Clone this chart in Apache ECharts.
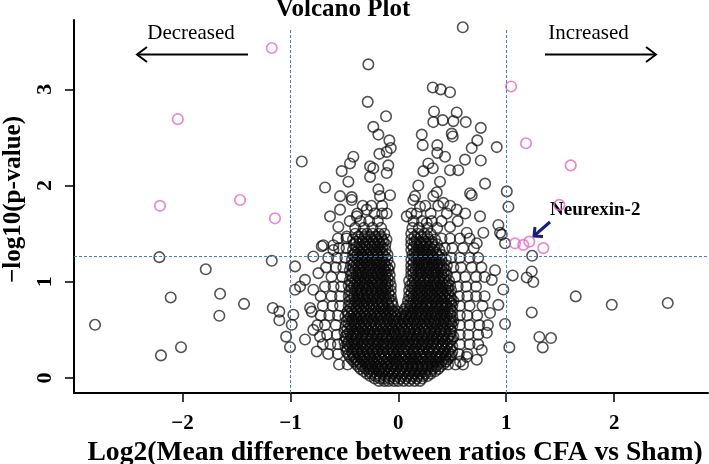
<!DOCTYPE html>
<html><head><meta charset="utf-8">
<script src="https://cdn.jsdelivr.net/npm/echarts@6/dist/echarts.min.js"></script>
<style>html,body{margin:0;padding:0;background:#fff}#c{width:709px;height:464px}</style>
</head><body><div id="c"></div>
<script>
const xTicks = [-2, -1, 0, 1, 2];
const yTicks = [0, 1, 2, 3];
const pThreshold = 1.27;
const foldLines = [-1, 1];

// significant (pink) proteins
const sigDown = [[-1.173,3.43],[-2.044,2.69],[-2.209,1.79],[-1.467,1.85],[-1.143,1.66]];
const sigUp = [[1.045,3.03],[1.183,2.44],[1.598,2.21],[1.492,1.80],[1.081,1.40],[1.158,1.384],[1.214,1.418],[1.344,1.35]];

// sparse upper points
const upperLeft = [[-0.278,3.26],[-0.284,2.87],[-0.114,2.72],[-0.232,2.61],[-0.185,2.53],[-0.083,2.47],[-0.07,2.39],[-0.176,2.33],[-0.108,2.35],[-0.895,2.25],[-0.417,2.30],[-0.448,2.23],[-0.525,2.15],[-0.262,2.20],[-0.232,2.18],[-0.093,2.21],[-0.108,2.13],[-0.463,2.04],[-0.679,1.98],[-0.262,2.09],[-0.185,1.96],[-0.54,1.89],[-0.432,1.88],[-0.077,1.90],[-0.432,1.85],[-0.633,1.68],[-0.54,1.75],[-0.556,1.57],[-0.386,1.68],[-0.293,1.75],[-0.108,1.71],[-0.17,1.89],[-0.695,1.38],[-0.602,1.33],[-0.478,1.47]];
const upperRight = [[0.597,3.645],[0.319,3.02],[0.393,3.00],[0.479,2.97],[0.331,2.77],[0.324,2.66],[0.411,2.68],[0.541,2.76],[0.510,2.67],[0.625,2.66],[0.764,2.60],[0.217,2.53],[0.226,2.42],[0.495,2.54],[0.504,2.51],[0.361,2.42],[0.732,2.47],[0.680,2.39],[0.912,2.40],[0.361,2.34],[0.433,2.30],[0.618,2.27],[0.764,2.26],[0.278,2.23],[0.232,2.15],[0.319,2.18],[0.479,2.16],[0.556,2.16],[0.386,2.04],[0.185,2.00],[0.804,2.02],[0.356,1.93],[0.665,1.92],[1.005,1.94],[0.155,1.89],[0.139,1.85],[0.201,1.78],[0.324,1.89],[0.417,1.82],[0.541,1.75],[0.680,1.90],[0.757,1.68],[0.078,1.68],[0.263,1.61],[0.479,1.57],[0.634,1.51],[0.788,1.51],[0.727,1.40],[1.02,1.78],[0.927,1.59],[0.943,1.51],[0.989,1.40]];
const outliers = [[-2.215,1.256],[-1.173,1.218],[-1.785,1.13],[-2.11,0.837],[-1.652,0.875],[-1.43,0.77],[-1.659,0.647],[-2.811,0.553],[-2.014,0.32],[-2.2,0.235],[-1.164,0.727],[-1.103,0.69],[-1.103,0.60],[-0.973,0.657],[-0.988,0.553],[-1.04,0.43],[-1.004,0.32],[-0.957,1.16],[-0.957,0.917],[-0.911,0.95],[-0.865,1.02],[-0.788,1.263],[-0.71,1.37],[-0.602,1.38],[-0.818,0.727],[-0.803,0.69],[-0.865,0.40],[-0.788,0.50],[-0.756,0.276],[-0.726,0.43],[-0.788,0.917],[-0.741,1.09],
[1.24,1.27],[1.06,1.066],[1.19,1.045],[1.236,1.107],[1.251,0.997],[1.644,0.848],[1.978,0.761],[2.497,0.779],[1.236,0.681],[0.989,0.561],[1.307,0.426],[1.415,0.415],[1.338,0.318],[1.029,0.318],
[0.896,1.12],[0.866,1.02],[0.973,0.92],[0.927,0.76],[0.85,0.675],[0.82,0.47],[0.773,0.29],[0.727,0.19],[0.634,0.22],[0.572,0.17],[0.958,1.49]];

// dense core, rows of [y, x values]
const coreRows = [
[-0.03,[-0.18,-0.13,-0.09,-0.04,0.00,0.05,0.10,0.15,0.20]],
[0.02,[-0.26,-0.21,-0.17,-0.12,-0.07,-0.02,0.03,0.08,0.13,0.18,0.23,0.27]],
[0.07,[-0.32,-0.27,-0.23,-0.18,-0.14,-0.09,-0.04,0.01,0.06,0.11,0.15,0.20,0.25,0.30,0.34]],
[0.12,[-0.37,-0.33,-0.28,-0.24,-0.19,-0.15,-0.10,-0.05,-0.01,0.04,0.09,0.13,0.18,0.22,0.27,0.31,0.35,0.39]],
[0.17,[-0.41,-0.37,-0.32,-0.27,-0.23,-0.18,-0.13,-0.08,-0.03,0.01,0.06,0.11,0.15,0.20,0.25,0.30,0.35,0.40,0.44]],
[0.22,[-0.45,-0.41,-0.36,-0.31,-0.26,-0.22,-0.17,-0.12,-0.07,-0.03,0.02,0.07,0.12,0.16,0.21,0.26,0.30,0.35,0.39,0.44,0.48]],
[0.27,[-0.48,-0.43,-0.38,-0.34,-0.29,-0.24,-0.20,-0.15,-0.10,-0.05,-0.01,0.04,0.09,0.14,0.18,0.23,0.28,0.32,0.37,0.42,0.46,0.50]],
[0.33,[-0.49,-0.45,-0.40,-0.35,-0.31,-0.26,-0.21,-0.16,-0.12,-0.07,-0.02,0.02,0.07,0.11,0.16,0.21,0.25,0.30,0.35,0.40,0.45,0.50]],
[0.38,[-0.50,-0.46,-0.41,-0.37,-0.32,-0.27,-0.22,-0.18,-0.13,-0.08,-0.03,0.01,0.05,0.10,0.15,0.19,0.24,0.29,0.33,0.38,0.43,0.48]],
[0.43,[-0.49,-0.44,-0.39,-0.34,-0.30,-0.25,-0.20,-0.15,-0.11,-0.06,-0.02,0.03,0.08,0.12,0.17,0.22,0.27,0.31,0.36,0.41,0.46,0.51]],
[0.48,[-0.50,-0.45,-0.40,-0.36,-0.31,-0.26,-0.22,-0.17,-0.12,-0.07,-0.03,0.02,0.06,0.11,0.16,0.20,0.25,0.30,0.34,0.39,0.44,0.49]],
[0.54,[-0.49,-0.44,-0.40,-0.35,-0.30,-0.25,-0.21,-0.16,-0.11,-0.06,-0.02,0.03,0.08,0.13,0.17,0.22,0.27,0.32,0.36,0.41,0.46,0.50]],
[0.59,[-0.48,-0.43,-0.39,-0.34,-0.29,-0.24,-0.19,-0.15,-0.10,-0.05,-0.01,0.04,0.09,0.14,0.18,0.23,0.28,0.33,0.37,0.42,0.47,0.51]],
[0.64,[-0.49,-0.44,-0.39,-0.35,-0.30,-0.25,-0.20,-0.16,-0.11,-0.06,-0.02,0.03,0.07,0.12,0.17,0.22,0.26,0.31,0.36,0.40,0.45,0.50]],
[0.69,[-0.47,-0.43,-0.38,-0.33,-0.28,-0.24,-0.19,-0.14,-0.09,-0.05,-0.01,0.05,0.09,0.13,0.18,0.22,0.27,0.32,0.36,0.41,0.46,0.50]],
[0.75,[-0.46,-0.41,-0.37,-0.32,-0.27,-0.23,-0.18,-0.14,-0.09,-0.05,0.08,0.12,0.17,0.22,0.26,0.31,0.36,0.40,0.45,0.50]],
[0.80,[-0.45,-0.40,-0.36,-0.31,-0.26,-0.21,-0.16,-0.11,-0.06,0.09,0.14,0.19,0.23,0.28,0.33,0.37,0.42,0.47,0.51]],
[0.85,[-0.46,-0.41,-0.36,-0.32,-0.27,-0.22,-0.17,-0.12,-0.07,0.10,0.14,0.19,0.24,0.29,0.33,0.38,0.43,0.48]],
[0.91,[-0.45,-0.40,-0.35,-0.30,-0.25,-0.21,-0.16,-0.12,-0.07,0.10,0.15,0.20,0.25,0.29,0.34,0.39,0.44,0.49]],
[0.96,[-0.46,-0.41,-0.36,-0.31,-0.27,-0.22,-0.17,-0.12,-0.07,0.11,0.15,0.20,0.25,0.30,0.34,0.39,0.44,0.48]],
[1.01,[-0.45,-0.40,-0.35,-0.31,-0.26,-0.21,-0.16,-0.12,-0.08,0.10,0.15,0.20,0.24,0.29,0.34,0.38,0.43,0.47]],
[1.07,[-0.44,-0.39,-0.35,-0.30,-0.25,-0.20,-0.16,-0.12,-0.08,0.12,0.17,0.21,0.26,0.31,0.35,0.40,0.45]],
[1.12,[-0.45,-0.40,-0.35,-0.30,-0.26,-0.21,-0.17,-0.13,-0.09,0.12,0.16,0.21,0.26,0.30,0.35,0.40,0.44]],
[1.17,[-0.44,-0.39,-0.34,-0.29,-0.25,-0.20,-0.16,-0.12,-0.08,0.12,0.17,0.22,0.26,0.31,0.36,0.40,0.45]],
[1.23,[-0.43,-0.38,-0.34,-0.29,-0.24,-0.20,-0.15,-0.10,0.12,0.17,0.21,0.26,0.31,0.35,0.40,0.44]],
[1.28,[-0.42,-0.38,-0.33,-0.28,-0.23,-0.19,-0.14,-0.10,0.13,0.17,0.22,0.27,0.31,0.36,0.40]],
[1.33,[-0.42,-0.37,-0.32,-0.27,-0.22,-0.17,-0.12,0.12,0.17,0.22,0.27,0.32,0.38]],
[1.39,[-0.41,-0.36,-0.31,-0.26,-0.22,-0.17,-0.12,0.12,0.17,0.21,0.26,0.31,0.36]],
[1.44,[-0.42,-0.36,-0.30,-0.25,-0.20,-0.15,-0.11,0.12,0.17,0.23,0.28,0.34]],
[1.50,[-0.40,-0.34,-0.29,-0.24,-0.18,-0.13,0.12,0.18,0.24,0.30]],
[1.56,[-0.40,-0.32,-0.24,-0.16,0.13,0.19,0.27,0.36]],
[1.63,[-0.45,-0.35,-0.27,-0.19,0.14,0.22,0.31,0.40,0.55]],
[1.71,[-0.38,-0.22,-0.15,0.12,0.17,0.30,0.45,0.62]],
[1.79,[-0.33,-0.25,-0.15,0.25,0.37,0.48]]
];
// second, interleaved set of core rows (the cloud is solid black)
const coreRowsB = [
[-0.005,[-0.22,-0.17,-0.13,-0.08,-0.03,0.02,0.07,0.12,0.17,0.22]],
[0.045,[-0.29,-0.25,-0.20,-0.15,-0.10,-0.05,0.00,0.05,0.10,0.15,0.20,0.25,0.30]],
[0.095,[-0.35,-0.30,-0.26,-0.21,-0.16,-0.12,-0.07,-0.02,0.03,0.08,0.13,0.17,0.22,0.27,0.32,0.37]],
[0.145,[-0.39,-0.35,-0.30,-0.26,-0.21,-0.16,-0.11,-0.06,-0.02,0.03,0.08,0.13,0.17,0.22,0.27,0.32,0.37,0.42]],
[0.195,[-0.43,-0.39,-0.34,-0.29,-0.25,-0.20,-0.15,-0.10,-0.05,-0.01,0.04,0.09,0.13,0.18,0.23,0.28,0.32,0.37,0.42,0.46]],
[0.245,[-0.46,-0.42,-0.37,-0.32,-0.27,-0.23,-0.18,-0.13,-0.08,-0.04,0.01,0.06,0.11,0.15,0.20,0.25,0.30,0.35,0.40,0.44,0.49]],
[0.30,[-0.47,-0.42,-0.38,-0.33,-0.28,-0.23,-0.19,-0.14,-0.09,-0.05,0.00,0.05,0.09,0.14,0.19,0.23,0.28,0.33,0.38,0.43,0.48]],
[0.355,[-0.47,-0.43,-0.38,-0.33,-0.29,-0.24,-0.19,-0.14,-0.10,-0.05,-0.01,0.04,0.09,0.13,0.18,0.22,0.27,0.32,0.36,0.41,0.46]],
[0.405,[-0.48,-0.43,-0.39,-0.34,-0.29,-0.25,-0.20,-0.15,-0.10,-0.06,-0.01,0.03,0.08,0.13,0.17,0.22,0.27,0.32,0.36,0.41,0.46,0.50]],
[0.455,[-0.47,-0.42,-0.38,-0.33,-0.28,-0.23,-0.19,-0.14,-0.09,-0.04,0.00,0.05,0.10,0.14,0.19,0.24,0.28,0.33,0.38,0.43,0.48]],
[0.51,[-0.47,-0.43,-0.38,-0.33,-0.28,-0.24,-0.19,-0.14,-0.09,-0.05,0.00,0.05,0.10,0.15,0.19,0.24,0.29,0.34,0.39,0.43,0.48]],
[0.565,[-0.46,-0.41,-0.37,-0.32,-0.27,-0.22,-0.17,-0.13,-0.08,-0.03,0.01,0.06,0.11,0.16,0.20,0.25,0.30,0.34,0.39,0.44,0.49]],
[0.615,[-0.46,-0.42,-0.37,-0.32,-0.28,-0.23,-0.18,-0.13,-0.09,-0.04,0.01,0.05,0.10,0.15,0.20,0.24,0.29,0.34,0.38,0.43,0.48]],
[0.665,[-0.46,-0.41,-0.36,-0.31,-0.26,-0.22,-0.17,-0.12,-0.07,-0.03,0.02,0.07,0.11,0.16,0.20,0.25,0.30,0.34,0.39,0.43,0.48]],
[0.72,[-0.44,-0.39,-0.35,-0.30,-0.25,-0.21,-0.16,-0.12,-0.07,0.06,0.11,0.15,0.20,0.24,0.29,0.34,0.38,0.43,0.48]],
[0.775,[-0.43,-0.38,-0.34,-0.29,-0.24,-0.19,-0.15,-0.10,-0.06,0.11,0.16,0.21,0.26,0.30,0.35,0.40,0.44,0.49]],
[0.825,[-0.43,-0.38,-0.33,-0.29,-0.24,-0.19,-0.14,-0.09,0.12,0.17,0.21,0.26,0.31,0.35,0.40,0.45,0.49]],
[0.88,[-0.43,-0.38,-0.34,-0.29,-0.24,-0.19,-0.14,-0.09,0.12,0.17,0.22,0.27,0.31,0.36,0.41,0.46]],
[0.935,[-0.43,-0.38,-0.33,-0.28,-0.24,-0.19,-0.14,-0.10,0.13,0.18,0.22,0.27,0.32,0.37,0.41,0.46]],
[0.985,[-0.43,-0.38,-0.33,-0.29,-0.24,-0.19,-0.15,-0.10,0.13,0.17,0.22,0.27,0.32,0.36,0.41,0.45]],
[1.04,[-0.42,-0.37,-0.32,-0.28,-0.23,-0.18,-0.14,-0.10,0.14,0.19,0.24,0.28,0.33,0.38,0.42]],
[1.095,[-0.42,-0.37,-0.33,-0.28,-0.23,-0.19,-0.15,-0.11,0.14,0.19,0.23,0.28,0.33,0.37,0.42]],
[1.145,[-0.42,-0.37,-0.32,-0.27,-0.23,-0.18,-0.14,-0.10,0.14,0.19,0.24,0.28,0.33,0.38,0.42]],
[1.20,[-0.41,-0.36,-0.31,-0.27,-0.22,-0.17,-0.13,0.14,0.19,0.24,0.28,0.33,0.38]],
[1.255,[-0.40,-0.35,-0.31,-0.26,-0.21,-0.16,-0.12,0.15,0.19,0.24,0.29,0.33,0.38]],
[1.305,[-0.40,-0.35,-0.30,-0.25,-0.20,-0.15,0.15,0.19,0.24,0.29,0.35]],
[1.36,[-0.39,-0.34,-0.29,-0.24,-0.19,-0.15,0.14,0.19,0.24,0.29,0.33]],
[1.415,[-0.39,-0.33,-0.28,-0.23,-0.18,-0.14,0.15,0.20,0.25,0.31]],
[1.47,[-0.37,-0.31,-0.26,-0.21,-0.16,0.15,0.21,0.27]]
];
const fringeRows = [
[0.14,[-0.47,-0.55,0.46,0.53,0.60]],
[0.25,[-0.56,-0.65,0.56,0.64]],
[0.35,[-0.56,-0.63,-0.70,0.57,0.66,0.74]],
[0.45,[-0.57,-0.66,0.57,0.65,0.74]],
[0.55,[-0.58,-0.68,-0.75,0.57,0.66,0.75,0.83]],
[0.65,[-0.56,-0.64,-0.72,0.57,0.64,0.73]],
[0.75,[-0.54,-0.61,-0.70,0.57,0.66,0.78]],
[0.85,[-0.54,-0.62,-0.72,0.56,0.64,0.72,0.80]],
[0.95,[-0.53,-0.60,-0.68,0.55,0.63,0.72]],
[1.05,[-0.52,-0.62,0.53,0.62,0.72,0.80]],
[1.15,[-0.51,-0.58,-0.67,0.51,0.58,0.68,0.77]],
[1.25,[-0.49,-0.57,-0.65,0.49,0.57,0.66,0.74]],
[1.35,[-0.48,-0.55,0.43,0.50,0.60,0.70]],
[1.45,[-0.48,-0.56,0.40,0.48,0.57,0.66]]
];

function rowsToPoints(rows) {
  const out = [];
  rows.forEach(r => r[1].forEach(x => out.push([x, r[0]])));
  return out;
}
const blackPoints = [].concat(rowsToPoints(coreRows), rowsToPoints(coreRowsB), rowsToPoints(fringeRows), upperLeft, upperRight, outliers);
const pinkPoints = sigDown.concat(sigUp);

const X_MIN = -3.006, X_MAX = 2.870, Y_MIN = -0.156, Y_MAX = 3.721;
const serif = 'Liberation Serif';

const chart = echarts.init(document.getElementById('c'), null, {renderer: 'canvas'});
const minus = v => (v < 0 ? '\u2212' + Math.abs(v) : String(v));

const dashStyle = {type: [3, 2], color: '#4f7cbf', width: 1};

chart.setOption({
  animation: false,
  backgroundColor: '#fff',
  grid: {left: 74, right: 1, top: 20, bottom: 71, containLabel: false, outerBoundsMode: 'none'},
  xAxis: {
    type: 'value', min: X_MIN, max: X_MAX,
    axisLine: {onZero: false, lineStyle: {color: '#000', width: 2}},
    axisTick: {customValues: xTicks, length: 9, lineStyle: {color: '#000', width: 1.5}},
    axisLabel: {customValues: xTicks, formatter: minus, margin: 20, color: '#000', fontFamily: serif, fontWeight: 'bold', fontSize: 21},
    splitLine: {show: false},
    name: 'Log2(Mean difference between ratios CFA vs Sham)',
    nameLocation: 'middle', nameGap: 43,
    nameTextStyle: {color: '#000', fontFamily: serif, fontWeight: 'bold', fontSize: 27.6, padding: [0, 0, 0, 8]}
  },
  yAxis: {
    type: 'value', min: Y_MIN, max: Y_MAX,
    axisLine: {onZero: false, lineStyle: {color: '#000', width: 2}},
    axisTick: {customValues: yTicks, length: 9, lineStyle: {color: '#000', width: 1.5}},
    axisLabel: {customValues: yTicks, rotate: 90, margin: 18, color: '#000', fontFamily: serif, fontWeight: 'bold', fontSize: 22},
    splitLine: {show: false},
    name: '\u2212log10(p-value)',
    nameLocation: 'middle', nameGap: 45, nameRotate: 90,
    nameTextStyle: {color: '#000', fontFamily: serif, fontWeight: 'bold', fontSize: 25, padding: [0, 0, 0, 14]}
  },
  series: [
    {
      type: 'scatter', data: blackPoints, symbol: 'circle', symbolSize: 10.5, z: 2,
      itemStyle: {color: 'rgba(0,0,0,0)', borderColor: 'rgba(10,10,10,0.88)', borderWidth: 1.6},
      emphasis: {disabled: true}, silent: true
    },
    {
      type: 'scatter', data: pinkPoints, symbol: 'circle', symbolSize: 10.5, z: 3,
      itemStyle: {color: 'rgba(0,0,0,0)', borderColor: '#e46cc6', borderWidth: 1.7},
      emphasis: {disabled: true}, silent: true
    },
    {
      type: 'scatter', data: [], z: 4, silent: true,
      markLine: {
        silent: true, symbol: ['none', 'none'], label: {show: false}, lineStyle: dashStyle,
        emphasis: {disabled: true},
        data: [
          [{coord: [X_MIN, pThreshold]}, {coord: [X_MAX, pThreshold]}],
          [{coord: [foldLines[0], Y_MIN]}, {coord: [foldLines[0], 3.63]}],
          [{coord: [foldLines[1], Y_MIN]}, {coord: [foldLines[1], 3.63]}]
        ]
      }
    }
  ],
  graphic: [
    {type: 'text', x: 343, y: 10, style: {text: 'Volcano Plot', fill: '#000', font: 'bold 25px "Liberation Serif"', align: 'center', verticalAlign: 'middle'}},
    {type: 'text', x: 191, y: 33.5, style: {text: 'Decreased', fill: '#000', font: '21px "Liberation Serif"', align: 'center', verticalAlign: 'middle'}},
    {type: 'text', x: 588.5, y: 33.5, style: {text: 'Increased', fill: '#000', font: '21px "Liberation Serif"', align: 'center', verticalAlign: 'middle'}},
    {type: 'text', x: 550, y: 210.5, style: {text: 'Neurexin-2', fill: '#000', font: 'bold 19px "Liberation Serif"', align: 'left', verticalAlign: 'middle'}},
    {type: 'line', shape: {x1: 248, y1: 54.5, x2: 137, y2: 54.5}, style: {stroke: '#000', lineWidth: 2}},
    {type: 'polyline', shape: {points: [[147, 47], [137, 54.5], [147, 62]]}, style: {stroke: '#000', lineWidth: 2, fill: null}},
    {type: 'line', shape: {x1: 545, y1: 54.5, x2: 656, y2: 54.5}, style: {stroke: '#000', lineWidth: 2}},
    {type: 'polyline', shape: {points: [[646, 47], [656, 54.5], [646, 62]]}, style: {stroke: '#000', lineWidth: 2, fill: null}},
    {type: 'line', shape: {x1: 550, y1: 222, x2: 535, y2: 235}, style: {stroke: '#1b1f6e', lineWidth: 3}},
    {type: 'polyline', shape: {points: [[535, 227], [534, 236], [543, 236.5]]}, style: {stroke: '#1b1f6e', lineWidth: 3, fill: null}}
  ]
});
</script>
</body></html>
